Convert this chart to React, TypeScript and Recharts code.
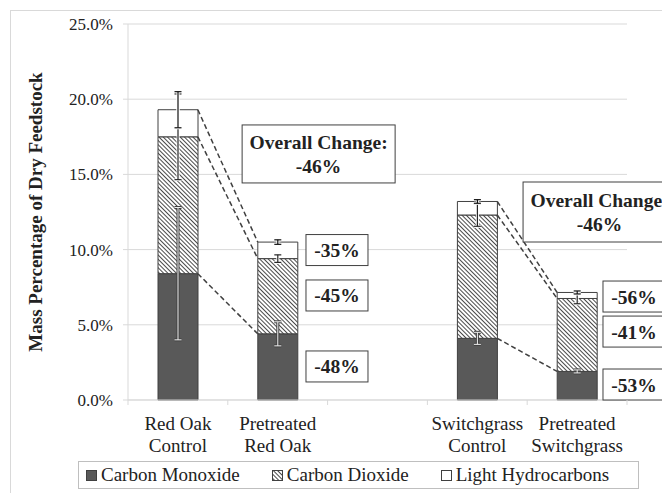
import React from 'react';
import {
  BarChart, Bar, XAxis, YAxis, CartesianGrid, ErrorBar, Legend,
  ReferenceLine, ReferenceDot, Label,
} from 'recharts';

// ---------- data ----------
const categories = ['Red Oak Control', 'Pretreated Red Oak', '', 'Switchgrass Control', 'Pretreated Switchgrass'];
const tickLabels: string[][] = [['Red Oak', 'Control'], ['Pretreated', 'Red Oak'], [], ['Switchgrass', 'Control'], ['Pretreated', 'Switchgrass']];
const carbonMonoxide = [8.4, 4.4, null, 4.1, 1.9];
const carbonDioxide = [9.1, 5.0, null, 8.2, 4.85];
const lightHydrocarbons = [1.8, 1.1, null, 0.9, 0.4];
const coError = [4.4, 0.8, null, 0.4, 0.1];
const co2Error = [2.85, 0.25, null, 0.75, 0.35];
const lhError = [1.2, 0.15, null, 0.12, 0.1];
const yTicks = [0, 5, 10, 15, 20, 25];
const seriesNames = ['Carbon Monoxide', 'Carbon Dioxide', 'Light Hydrocarbons'];
const overallText = ['Overall Change:', '-46%'];
const redOakChanges = ['-35%', '-45%', '-48%'];
const switchgrassChanges = ['-56%', '-41%', '-53%'];
const comparePairs: [number, number][] = [[0, 1], [3, 4]];

// ---------- layout ----------
const FONT = '"Liberation Serif", "Times New Roman", serif';
const TXT = '#222';
const GRID = '#d9d9d9';
const EDGE = '#404040';
const HALF_BAR = 0.2; // half bar width in group units
const overallAnchors = [{ x: 1.91, y: 16.36 }, { x: 4.725, y: 12.5 }];
const redOakAnchors = [{ x: 2.094, y: 9.97 }, { x: 2.094, y: 6.95 }, { x: 2.094, y: 2.23 }];
const switchAnchors = [{ x: 5.07, y: 6.88 }, { x: 5.07, y: 4.55 }, { x: 5.07, y: 1.03 }];

const rows = categories.map((name, i) => ({
  name,
  pos: i + 0.5,
  co: carbonMonoxide[i],
  co2: carbonDioxide[i],
  lh: lightHydrocarbons[i],
  coErr: coError[i] ?? undefined,
  co2Err: co2Error[i] ?? undefined,
  lhErr: lhError[i] ?? undefined,
}));

const levels = (i: number) => {
  const a = carbonMonoxide[i] as number;
  const b = a + (carbonDioxide[i] as number);
  const c = b + (lightHydrocarbons[i] as number);
  return [a, b, c];
};

const numTicks = [0, 0.5, 1, 1.5, 2, 2.5, 3, 3.5, 4, 4.5, 5];

const XTick = (props: any) => {
  const { x, y, payload } = props;
  const v = payload.value as number;
  if (Number.isInteger(v)) {
    return <line x1={x} x2={x} y1={y} y2={y + 5} stroke={GRID} />;
  }
  const lines = tickLabels[Math.floor(v)] || [];
  return (
    <text x={x} y={y} textAnchor="middle" fontSize={19} fill={TXT} fontFamily={FONT}>
      {lines.map((l, k) => (
        <tspan key={k} x={x} dy={k === 0 ? 30 : 22}>{l}</tspan>
      ))}
    </text>
  );
};

const makeBox = (w: number, h: number, lines: string[]) => (props: any) => {
  const { cx, cy } = props;
  return (
    <g>
      <rect x={cx - w / 2} y={cy - h / 2} width={w} height={h} fill="#fff" stroke={EDGE} strokeWidth={1} />
      {lines.length === 1 ? (
        <text x={cx} y={cy + 7} textAnchor="middle" fontSize={19.5} fontWeight="bold" fill={TXT} fontFamily={FONT}>{lines[0]}</text>
      ) : (
        <text textAnchor="middle" fontSize={19.5} fontWeight="bold" fill={TXT} fontFamily={FONT}>
          <tspan x={cx} y={cy - 5}>{lines[0]}</tspan>
          <tspan x={cx} y={cy + 19}>{lines[1]}</tspan>
        </text>
      )}
    </g>
  );
};

const Swatch = ({ kind }: { kind: number }) => (
  <svg width={11} height={11} style={{ display: 'block' }}>
    <defs>
      <pattern id="hatchLegend" patternUnits="userSpaceOnUse" width={3} height={3} patternTransform="rotate(-45)">
        <rect width={3} height={3} fill="#fff" />
        <line x1={0} y1={0} x2={0} y2={3} stroke={EDGE} strokeWidth={1.9} />
      </pattern>
    </defs>
    <rect x={0.5} y={0.5} width={10} height={10}
      fill={kind === 0 ? '#595959' : kind === 1 ? 'url(#hatchLegend)' : '#fff'} stroke={EDGE} strokeWidth={1} />
  </svg>
);

const LegendBox = () => (
  <div style={{
    boxSizing: 'border-box', height: 28, border: '1px solid #bfbfbf', display: 'flex', alignItems: 'center',
    paddingLeft: 7, fontFamily: FONT, fontSize: 19, color: TXT, background: '#fff',
  }}>
    {seriesNames.map((n, i) => (
      <div key={n} style={{ display: 'flex', alignItems: 'center', marginRight: 32 }}>
        <Swatch kind={i} />
        <span style={{ marginLeft: 4, whiteSpace: 'nowrap' }}>{n}</span>
      </div>
    ))}
  </div>
);

export default function App() {
  return (
    <div style={{ position: 'relative', width: 662, height: 485, overflow: 'hidden', fontFamily: FONT }}>
      <div style={{ position: 'absolute', left: 2, top: 2, width: 900, height: 900, border: `1px solid ${GRID}` }} />
      <BarChart
        width={662}
        height={485}
        data={rows}
        margin={{ top: 16, right: 43, left: 60, bottom: 5 }}
        style={{ position: 'absolute', left: 0, top: 0 }}
      >
        <defs>
          <pattern id="hatch" patternUnits="userSpaceOnUse" width={3} height={3} patternTransform="rotate(-45)">
            <rect width={3} height={3} fill="#fff" />
            <line x1={0} y1={0} x2={0} y2={3} stroke={EDGE} strokeWidth={1.9} />
          </pattern>
        </defs>
        <CartesianGrid horizontal vertical={false} stroke={GRID} />
        <XAxis
          xAxisId="num"
          dataKey="pos"
          type="number"
          domain={[0, 5]}
          allowDataOverflow
          ticks={numTicks}
          interval={0}
          height={60}
          tickLine={false}
          tickSize={0}
          tickMargin={0}
          axisLine={{ stroke: GRID }}
          tick={<XTick />}
        />
        <XAxis xAxisId="cat" dataKey="name" hide height={0} />
        <YAxis
          domain={[0, 25]}
          ticks={yTicks}
          width={60}
          tickFormatter={(v: number) => v.toFixed(1) + '%'}
          tick={{ fontSize: 17, fill: TXT, fontFamily: FONT }}
          tickSize={5}
          tickMargin={10}
          tickLine={{ stroke: GRID }}
          axisLine={{ stroke: GRID }}
        >
          <Label
            content={(p: any) => {
              const vb = p.viewBox || { x: 60, y: 16, height: 376 };
              const cx = vb.x - 33;
              const cy = vb.y + vb.height / 2;
              return (
                <text x={cx} y={cy} transform={`rotate(-90, ${cx}, ${cy})`} textAnchor="middle"
                  dominantBaseline="central" fontSize={19} fontWeight="bold" fill={TXT} fontFamily={FONT}>
                  Mass Percentage of Dry Feedstock
                </text>
              );
            }}
          />
        </YAxis>
        <Legend verticalAlign="bottom" content={<LegendBox />} wrapperStyle={{ left: 70, width: 561, top: 453, bottom: 'auto' }} />
        <Bar xAxisId="cat" dataKey="co" name={seriesNames[0]} stackId="a" barSize={40} fill="#595959" stroke={EDGE} isAnimationActive={false}>
          <ErrorBar dataKey="coErr" width={3.5} stroke={EDGE} strokeWidth={3} />
          <ErrorBar dataKey="coErr" width={3.5} stroke="#f2f2f2" strokeWidth={1} />
        </Bar>
        <Bar xAxisId="cat" dataKey="co2" name={seriesNames[1]} stackId="a" barSize={40} fill="url(#hatch)" stroke={EDGE} isAnimationActive={false}>
          <ErrorBar dataKey="co2Err" width={3.5} stroke="#fff" strokeWidth={3} />
          <ErrorBar dataKey="co2Err" width={3.5} stroke="#262626" strokeWidth={1.2} />
        </Bar>
        <Bar xAxisId="cat" dataKey="lh" name={seriesNames[2]} stackId="a" barSize={40} fill="#fff" stroke={EDGE} isAnimationActive={false}>
          <ErrorBar dataKey="lhErr" width={3.5} stroke="#fff" strokeWidth={3} />
          <ErrorBar dataKey="lhErr" width={3.5} stroke="#111" strokeWidth={1.2} />
        </Bar>
        {comparePairs.flatMap(([a, b]) => {
          const la = levels(a);
          const lb = levels(b);
          return la.map((v, k) => (
            <ReferenceLine
              key={`c${a}-${k}`}
              xAxisId="num"
              ifOverflow="visible"
              segment={[{ x: a + 0.5 + HALF_BAR, y: v }, { x: b + 0.5 - HALF_BAR, y: lb[k] }]}
              stroke={EDGE}
              strokeWidth={1.5}
              strokeDasharray="5 3"
            />
          ));
        })}
        {overallAnchors.map((p, i) => (
          <ReferenceDot key={`o${i}`} xAxisId="num" x={p.x} y={p.y} r={0} ifOverflow="visible"
            shape={makeBox(153, i === 0 ? 58 : 60, overallText)} />
        ))}
        {redOakAnchors.map((p, i) => (
          <ReferenceDot key={`r${i}`} xAxisId="num" x={p.x} y={p.y} r={0} ifOverflow="visible"
            shape={makeBox(62, 31, [redOakChanges[i]])} />
        ))}
        {switchAnchors.map((p, i) => (
          <ReferenceDot key={`s${i}`} xAxisId="num" x={p.x} y={p.y} r={0} ifOverflow="visible"
            shape={makeBox(62, 31, [switchgrassChanges[i]])} />
        ))}
      </BarChart>
    </div>
  );
}
